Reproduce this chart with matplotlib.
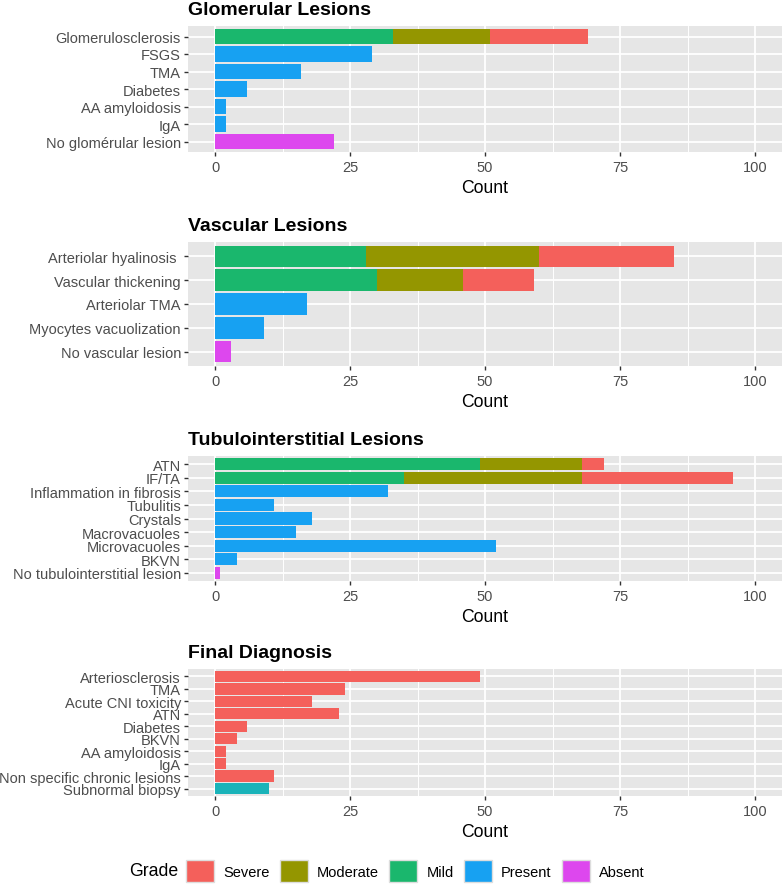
import matplotlib
matplotlib.use("Agg")
import matplotlib.pyplot as plt
import numpy as np
from matplotlib.patches import Patch
from matplotlib.ticker import MultipleLocator

plt.rcParams['font.family'] = ['Liberation Sans', 'DejaVu Sans']

# grade colours
grades = ["Severe", "Moderate", "Mild", "Present", "Absent"]
grade_colors = ["#F4605B", "#949600", "#1AB76D", "#17A1F2", "#DD47EE"]
subnormal_color = "#1AB3B9"

# Glomerular lesions (segment counts)
glom_labels = ["Glomerulosclerosis", "FSGS", "TMA", "Diabetes", "AA amyloidosis", "IgA",
               "No glomérular lesion"]
glom_mild = [33, 0, 0, 0, 0, 0, 0]
glom_moderate = [18, 0, 0, 0, 0, 0, 0]
glom_severe = [18, 0, 0, 0, 0, 0, 0]
glom_present = [0, 29, 16, 6, 2, 2, 0]
glom_absent = [0, 0, 0, 0, 0, 0, 22]

# Vascular lesions
vasc_labels = ["Arteriolar hyalinosis ", "Vascular thickening", "Arteriolar TMA",
               "Myocytes vacuolization", "No vascular lesion"]
vasc_mild = [28, 30, 0, 0, 0]
vasc_moderate = [32, 16, 0, 0, 0]
vasc_severe = [25, 13, 0, 0, 0]
vasc_present = [0, 0, 17, 9, 0]
vasc_absent = [0, 0, 0, 0, 3]

# Tubulointerstitial lesions
tub_labels = ["ATN", "IF/TA", "Inflammation in fibrosis", "Tubulitis", "Crystals",
              "Macrovacuoles", "Microvacuoles", "BKVN", "No tubulointerstitial lesion"]
tub_mild = [49, 35, 0, 0, 0, 0, 0, 0, 0]
tub_moderate = [19, 33, 0, 0, 0, 0, 0, 0, 0]
tub_severe = [4, 28, 0, 0, 0, 0, 0, 0, 0]
tub_present = [0, 0, 32, 11, 18, 15, 52, 4, 0]
tub_absent = [0, 0, 0, 0, 0, 0, 0, 0, 1]

# Final diagnosis
final_labels = ["Arteriosclerosis", "TMA", "Acute CNI toxicity", "ATN", "Diabetes", "BKVN",
                "AA amyloidosis", "IgA", "Non specific chronic lesions", "Subnormal biopsy"]
final_severe = [49, 24, 18, 23, 6, 4, 2, 2, 11, 0]
final_subnormal = [0, 0, 0, 0, 0, 0, 0, 0, 0, 10]

W, H = 782, 887
fig = plt.figure(figsize=(W / 100, H / 100), dpi=100)
fig.patch.set_facecolor("white")

# (top, bottom) of each panel in pixels
panel_px = [(27, 153), (243, 367), (457, 582), (670, 797)]
left_px = 188


def draw_panel(ax, labels, segments, title, top_px):
    n = len(labels)
    y = np.arange(n)
    left = np.zeros(n)
    for vals, col in segments:
        vals = np.array(vals, dtype=float)
        ax.barh(y, vals, left=left, height=0.9, color=col, edgecolor="none", zorder=3)
        left += vals
    ax.set_facecolor("#E6E6E6")
    for s in ax.spines.values():
        s.set_visible(False)
    ax.set_xlim(-5, 105)
    ax.set_ylim(n - 1 + 0.6, -0.6)
    ax.set_yticks(y)
    ax.set_yticklabels(labels)
    ax.xaxis.set_major_locator(MultipleLocator(25))
    ax.xaxis.set_minor_locator(MultipleLocator(12.5))
    ax.grid(which="major", color="white", lw=1.3, zorder=0)
    ax.grid(which="minor", axis="x", color="white", lw=0.7, zorder=0)
    ax.set_axisbelow(True)
    ax.tick_params(axis="both", which="major", length=2.9, width=1.0, color="#333333",
                   labelcolor="#4D4D4D", labelsize=10.5, pad=2.2)
    ax.tick_params(axis="x", which="major", pad=3.2)
    ax.tick_params(axis="x", which="minor", length=0)
    ax.set_xlabel("Count", fontsize=12.7, labelpad=3.5, color="black")
    fig.text(left_px / W, 1 - (top_px - 12) / H, title, fontsize=14, fontweight="bold",
             ha="left", va="baseline")


panels = [
    (glom_labels, [(glom_mild, grade_colors[2]), (glom_moderate, grade_colors[1]),
                   (glom_severe, grade_colors[0]), (glom_present, grade_colors[3]),
                   (glom_absent, grade_colors[4])], "Glomerular Lesions"),
    (vasc_labels, [(vasc_mild, grade_colors[2]), (vasc_moderate, grade_colors[1]),
                   (vasc_severe, grade_colors[0]), (vasc_present, grade_colors[3]),
                   (vasc_absent, grade_colors[4])], "Vascular Lesions"),
    (tub_labels, [(tub_mild, grade_colors[2]), (tub_moderate, grade_colors[1]),
                  (tub_severe, grade_colors[0]), (tub_present, grade_colors[3]),
                  (tub_absent, grade_colors[4])], "Tubulointerstitial Lesions"),
    (final_labels, [(final_severe, grade_colors[0]), (final_subnormal, subnormal_color)],
     "Final Diagnosis"),
]

for (labels, segs, title), (top, bot) in zip(panels, panel_px):
    ax = fig.add_axes([left_px / W, 1 - bot / H, 1 - left_px / W, (bot - top) / H])
    draw_panel(ax, labels, segs, title, top)

# legend
handles = [Patch(facecolor=c, edgecolor="#DDDDDD", lw=1.0, label=g)
           for g, c in zip(grades, grade_colors)]
fig.legend(handles=handles, loc="center left", bbox_to_anchor=(186 / W, 1 - 872 / H),
           ncol=5, frameon=False, fontsize=10.5, handlelength=1.92, handleheight=1.85,
           handletextpad=0.64, columnspacing=0.69, borderpad=0, borderaxespad=0)
fig.text(178 / W, 1 - 872 / H, "Grade", fontsize=12.7, ha="right", va="center")

fig.savefig("out.png", dpi=100)
